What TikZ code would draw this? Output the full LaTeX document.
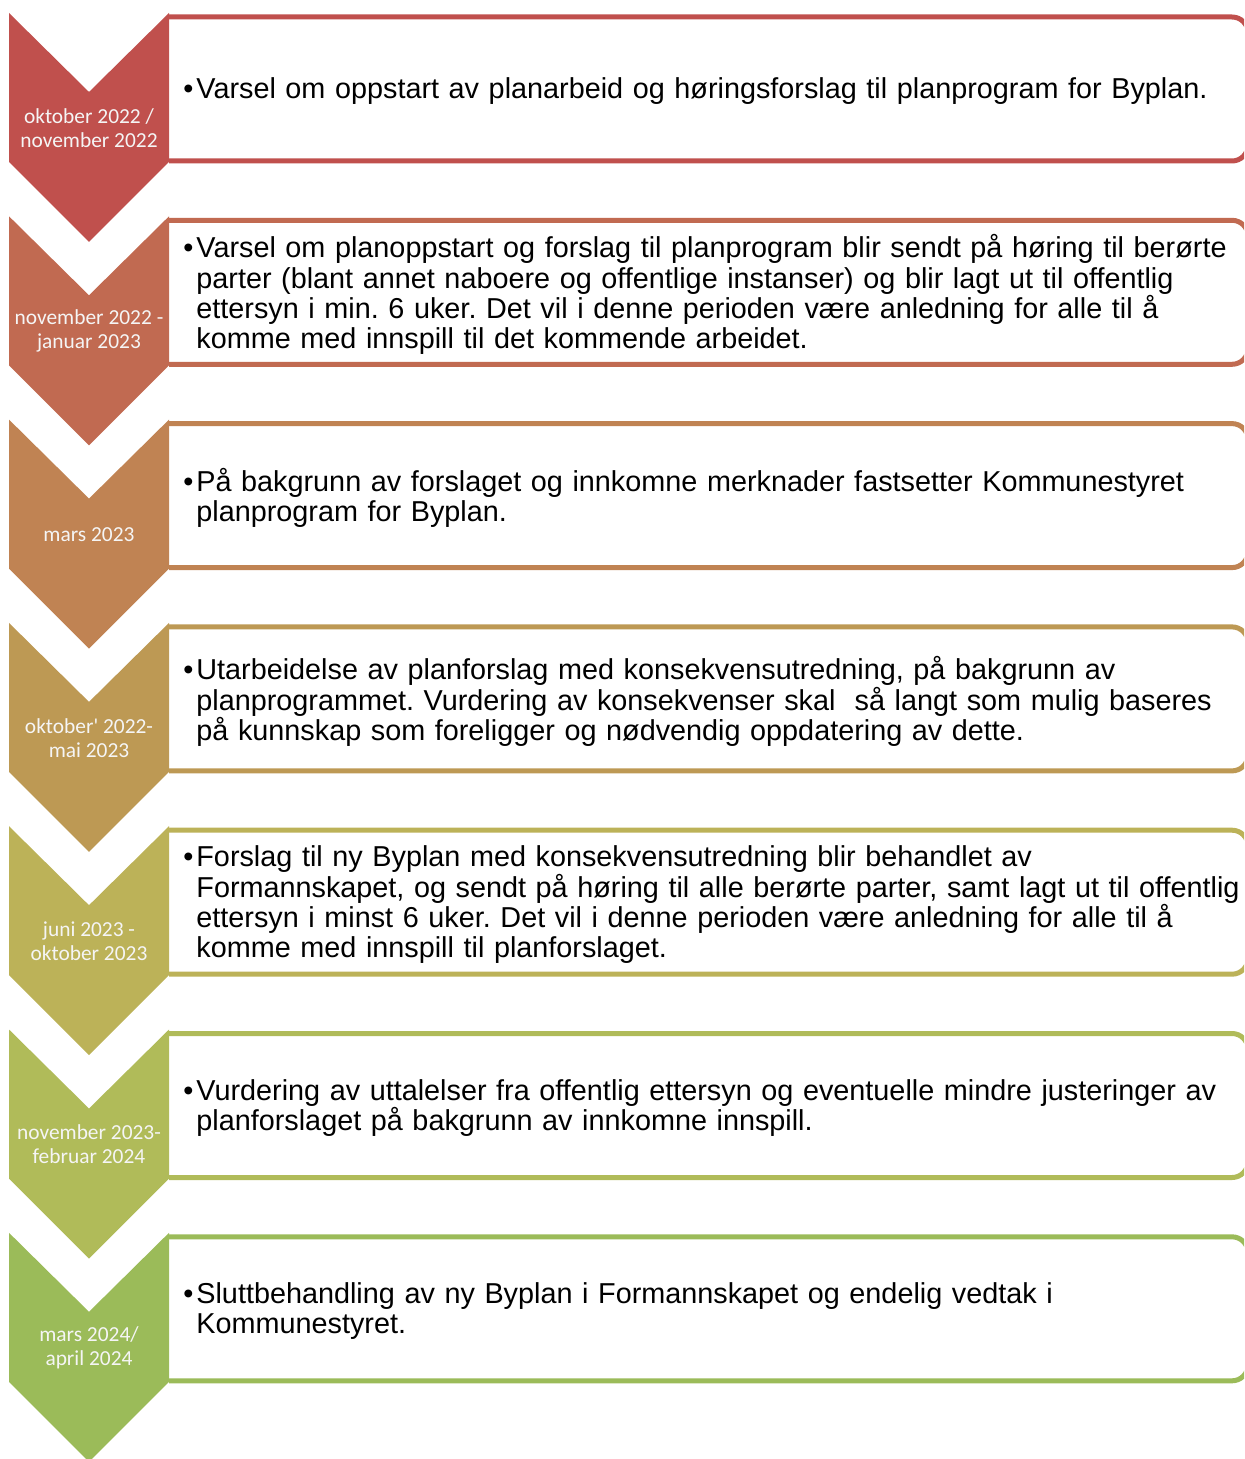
\documentclass[tikz,border=0pt]{standalone}
\usepackage{fontspec}
\usepackage{tikz}
\usetikzlibrary{calc}
\newfontfamily\itemfont{Liberation Sans}
\newfontfamily\datefont{Carlito}

\definecolor{st1}{RGB}{192,80,77}
\definecolor{st2}{RGB}{193,106,81}
\definecolor{st3}{RGB}{192,131,83}
\definecolor{st4}{RGB}{189,153,84}
\definecolor{st5}{RGB}{188,178,88}
\definecolor{st6}{RGB}{176,187,89}
\definecolor{st7}{RGB}{155,187,89}

\begin{document}
\frenchspacing
\begin{tikzpicture}[x=0.5pt, y=-0.5pt,
    chevron/.style={fill=#1, draw=none},
    stagebox/.style={draw=#1, fill=white, line width=2.5pt, rounded corners=8pt},
    datelabel/.style={text=white!96!black, font=\datefont\fontsize{10.7pt}{12pt}\selectfont, align=center, inner sep=0pt},
    itemtext/.style={anchor=west, inner sep=0pt, text width=560pt, align=left, font=\itemfont\fontsize{14.4pt}{15.15pt}\selectfont}]
    \clip (0,0) rectangle (1244,1459);
    \useasboundingbox (0,0) rectangle (1244,1459);
    
    \coordinate (s1) at (0,13);
    \coordinate (s2) at ($(s1) + (0,203.3)$);
    \coordinate (s3) at ($(s2) + (0,203.3)$);
    \coordinate (s4) at ($(s3) + (0,203.3)$);
    \coordinate (s5) at ($(s4) + (0,203.3)$);
    \coordinate (s6) at ($(s5) + (0,203.3)$);
    \coordinate (s7) at ($(s6) + (0,203.3)$);
    
    % stage 1
    \draw[stagebox=st1] ($(s1) + (169,4)$) -- ++(1079,0) -- ++(0,144) -- ++(-1079,0);
    \fill[chevron=st1] ($(s1) + (9,0)$) -- ++(80,79) -- ++(80,-79) -- ++(0,149) -- ++(-80,80) -- ++(-80,-80) -- cycle;
    \node[datelabel] (d1) at ($(s1) + (89,115)$) {oktober 2022 /\\november 2022};
    \node[itemtext] (t1) at ($(s1) + (183,78.5)$) {\makebox[6.5pt][l]{•}Varsel om oppstart av planarbeid og høringsforslag til planprogram for Byplan.};
    
    % stage 2
    \draw[stagebox=st2] ($(s2) + (169,4)$) -- ++(1079,0) -- ++(0,144) -- ++(-1079,0);
    \fill[chevron=st2] ($(s2) + (9,0)$) -- ++(80,79) -- ++(80,-79) -- ++(0,149) -- ++(-80,80) -- ++(-80,-80) -- cycle;
    \node[datelabel] (d2) at ($(s2) + (89,115)$) {november 2022 -\\januar 2023};
    \node[itemtext] (t2) at ($(s2) + (183,78.5)$) {\makebox[6.5pt][l]{•}Varsel om planoppstart og forslag til planprogram blir sendt på høring til berørte\\
        \hspace*{6.5pt}parter (blant annet naboere og offentlige instanser) og blir lagt ut til offentlig\\
        \hspace*{6.5pt}ettersyn i min. 6 uker. Det vil i denne perioden være anledning for alle til å\\
        \hspace*{6.5pt}komme med innspill til det kommende arbeidet.};
    
    % stage 3
    \draw[stagebox=st3] ($(s3) + (169,4)$) -- ++(1079,0) -- ++(0,144) -- ++(-1079,0);
    \fill[chevron=st3] ($(s3) + (9,0)$) -- ++(80,79) -- ++(80,-79) -- ++(0,149) -- ++(-80,80) -- ++(-80,-80) -- cycle;
    \node[datelabel] (d3) at ($(s3) + (89,115)$) {mars 2023};
    \node[itemtext] (t3) at ($(s3) + (183,78.5)$) {\makebox[6.5pt][l]{•}På bakgrunn av forslaget og innkomne merknader fastsetter Kommunestyret\\
        \hspace*{6.5pt}planprogram for Byplan.};
    
    % stage 4
    \draw[stagebox=st4] ($(s4) + (169,4)$) -- ++(1079,0) -- ++(0,144) -- ++(-1079,0);
    \fill[chevron=st4] ($(s4) + (9,0)$) -- ++(80,79) -- ++(80,-79) -- ++(0,149) -- ++(-80,80) -- ++(-80,-80) -- cycle;
    \node[datelabel] (d4) at ($(s4) + (89,115)$) {oktober' 2022-\\mai 2023};
    \node[itemtext] (t4) at ($(s4) + (183,78.5)$) {\makebox[6.5pt][l]{•}Utarbeidelse av planforslag med konsekvensutredning, på bakgrunn av\\
        \hspace*{6.5pt}planprogrammet. Vurdering av konsekvenser skal \ så langt som mulig baseres\\
        \hspace*{6.5pt}på kunnskap som foreligger og nødvendig oppdatering av dette.};
    
    % stage 5
    \draw[stagebox=st5] ($(s5) + (169,4)$) -- ++(1079,0) -- ++(0,144) -- ++(-1079,0);
    \fill[chevron=st5] ($(s5) + (9,0)$) -- ++(80,79) -- ++(80,-79) -- ++(0,149) -- ++(-80,80) -- ++(-80,-80) -- cycle;
    \node[datelabel] (d5) at ($(s5) + (89,115)$) {juni 2023 -\\oktober 2023};
    \node[itemtext] (t5) at ($(s5) + (183,78.5)$) {\makebox[6.5pt][l]{•}Forslag til ny Byplan med konsekvensutredning blir behandlet av\\
        \hspace*{6.5pt}Formannskapet, og sendt på høring til alle berørte parter, samt lagt ut til offentlig\\
        \hspace*{6.5pt}ettersyn i minst 6 uker. Det vil i denne perioden være anledning for alle til å\\
        \hspace*{6.5pt}komme med innspill til planforslaget.};
    
    % stage 6
    \draw[stagebox=st6] ($(s6) + (169,4)$) -- ++(1079,0) -- ++(0,144) -- ++(-1079,0);
    \fill[chevron=st6] ($(s6) + (9,0)$) -- ++(80,79) -- ++(80,-79) -- ++(0,149) -- ++(-80,80) -- ++(-80,-80) -- cycle;
    \node[datelabel] (d6) at ($(s6) + (89,115)$) {november 2023-\\februar 2024};
    \node[itemtext] (t6) at ($(s6) + (183,78.5)$) {\makebox[6.5pt][l]{•}Vurdering av uttalelser fra offentlig ettersyn og eventuelle mindre justeringer av\\
        \hspace*{6.5pt}planforslaget på bakgrunn av innkomne innspill.};
    
    % stage 7
    \draw[stagebox=st7] ($(s7) + (169,4)$) -- ++(1079,0) -- ++(0,144) -- ++(-1079,0);
    \fill[chevron=st7] ($(s7) + (9,0)$) -- ++(80,79) -- ++(80,-79) -- ++(0,149) -- ++(-80,80) -- ++(-80,-80) -- cycle;
    \node[datelabel] (d7) at ($(s7) + (89,115)$) {mars 2024/\\april 2024};
    \node[itemtext] (t7) at ($(s7) + (183,78.5)$) {\makebox[6.5pt][l]{•}Sluttbehandling av ny Byplan i Formannskapet og endelig vedtak i\\
        \hspace*{6.5pt}Kommunestyret.};
    
\end{tikzpicture}
\end{document}
